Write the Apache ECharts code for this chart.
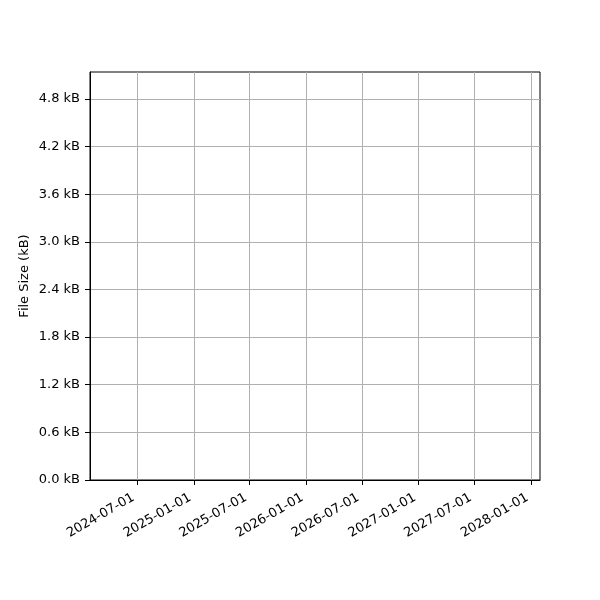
<!DOCTYPE html>
<html>
<head>
<meta charset="utf-8">
<script src="https://cdn.jsdelivr.net/npm/echarts@6/dist/echarts.min.js"></script>
<style>html,body{margin:0;padding:0;background:#fff}#c{width:600px;height:600px}</style>
</head>
<body>
<div id="c"></div>
<script>
// Data (the reference chart contains no plotted points)
const dates = [];
const fileSizesKB = [];
// Axis ticks
const xTickLabels = ['2024-07-01','2025-01-01','2025-07-01','2026-01-01','2026-07-01','2027-01-01','2027-07-01','2028-01-01'];
const yTickValues = [0, 0.6, 1.2, 1.8, 2.4, 3.0, 3.6, 4.2, 4.8];
const xRange = ['2024-01-30', '2028-01-30'];
const yRange = [0, 5.14];

const toMs = s => Date.parse(s + 'T00:00:00Z');
const xTicks = xTickLabels.map(toMs);
const seriesData = dates.map((d, i) => [toMs(d), fileSizesKB[i]]);

const font = 'DejaVu Sans';
const chart = echarts.init(document.getElementById('c'), null, {renderer: 'canvas'});
chart.setOption({
  animation: false,
  backgroundColor: '#ffffff',
  grid: {left: 90, right: 60, top: 72, bottom: 120, show: true, borderColor: '#000', borderWidth: 1, backgroundColor: 'transparent'},
  xAxis: {
    type: 'value',
    min: toMs(xRange[0]),
    max: toMs(xRange[1]),
    axisLine: {show: true, lineStyle: {color: '#000', width: 1}},
    axisTick: {show: true, length: 5, lineStyle: {color: '#000'}, customValues: xTicks},
    axisLabel: {
      customValues: xTicks,
      rotate: 30, margin: 7, color: '#000', fontSize: 13, fontFamily: font,
      align: 'right', verticalAlign: 'top', padding: [0, 8, 0, 0],
      formatter: v => new Date(v).toISOString().slice(0, 10)
    },
    splitLine: {show: true, lineStyle: {color: '#b0b0b0', width: 1}}
  },
  yAxis: {
    type: 'value',
    min: yRange[0],
    max: yRange[1],
    name: 'File Size (kB)',
    nameLocation: 'middle',
    nameMoveOverlap: false,
    nameGap: 59,
    nameTextStyle: {color: '#000', fontSize: 13, fontFamily: font},
    axisLine: {show: true, lineStyle: {color: '#000', width: 1}},
    axisTick: {show: true, length: 5, lineStyle: {color: '#000'}, customValues: yTickValues},
    axisLabel: {
      customValues: yTickValues,
      margin: 10, color: '#000', fontSize: 13, fontFamily: font,
      formatter: v => v.toFixed(1) + ' kB'
    },
    splitLine: {show: true, lineStyle: {color: '#b0b0b0', width: 1}}
  },
  series: [{
    type: 'line',
    data: seriesData,
    symbol: 'none',
    lineStyle: {color: '#1f77b4', width: 1.5}
  }]
});
</script>
</body>
</html>
